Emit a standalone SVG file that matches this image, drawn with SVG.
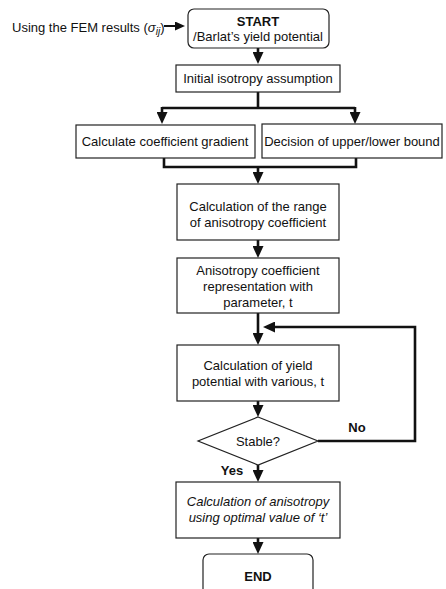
<svg xmlns="http://www.w3.org/2000/svg" width="446" height="589" viewBox="0 0 446 589">
<style>
.box{fill:#fff;stroke:#222;stroke-width:1.2}
.t{font-family:"Liberation Sans",Arial,sans-serif;font-size:13px;fill:#111;text-anchor:middle}
.b{font-weight:bold}
.i{font-style:italic}
.c{fill:none;stroke:#111;stroke-width:2.6;stroke-linejoin:miter}
</style>
<defs>
<marker id="ah" markerUnits="userSpaceOnUse" viewBox="0 0 12 11" markerWidth="12" markerHeight="11" refX="8" refY="5.5" orient="auto">
<path d="M0,0 L12,5.5 L0,11 z" fill="#111"/>
</marker>
<marker id="ahs" markerUnits="userSpaceOnUse" viewBox="0 0 10 9" markerWidth="10" markerHeight="9" refX="7" refY="4.5" orient="auto">
<path d="M0,0 L10,4.5 L0,9 z" fill="#111"/>
</marker>
</defs>
<g id="input">
<text class="t" x="12" y="32" style="text-anchor:start">Using the FEM results (<tspan class="i">σ</tspan><tspan class="i" font-size="10" dy="3">ij</tspan><tspan dy="-3">)</tspan></text>
</g>
<g id="connectors">
<path class="c" d="M164,26 L182,26" style="stroke-width:2" marker-end="url(#ahs)"/>
<path class="c" d="M258,48 L258,60" marker-end="url(#ah)"/>
<path class="c" d="M258,92 L258,108"/>
<path class="c" d="M162,108 L355,108"/>
<path class="c" d="M162,107 L162,120" marker-end="url(#ah)"/>
<path class="c" d="M355,107 L355,120" marker-end="url(#ah)"/>
<path class="c" d="M164,158 L164,167 L356,167 L356,158"/>
<path class="c" d="M258,167 L258,180" marker-end="url(#ah)"/>
<path class="c" d="M258,240 L258,254" marker-end="url(#ah)"/>
<path class="c" d="M258,313 L258,341" marker-end="url(#ah)"/>
<path class="c" d="M318,441 L415,441 L415,327 L267,327" marker-end="url(#ah)"/>
<path class="c" d="M258,401 L258,413" marker-end="url(#ah)"/>
<path class="c" d="M258,465 L258,478" marker-end="url(#ah)"/>
<path class="c" d="M258,538 L258,550" marker-end="url(#ah)"/>
</g>
<g id="start">
<rect class="box" x="188" y="9" width="141" height="39" rx="6"/>
<text class="t b" x="258" y="26">START</text>
<text class="t" x="258" y="41">/Barlat’s yield potential</text>
</g>
<g id="initial">
<rect class="box" x="176" y="65" width="164" height="27"/>
<text class="t" x="258" y="83">Initial isotropy assumption</text>
</g>
<g id="gradient">
<rect class="box" x="76" y="125" width="179" height="33"/>
<text class="t" x="165" y="146">Calculate coefficient gradient</text>
</g>
<g id="bound">
<rect class="box" x="262" y="124" width="180" height="34"/>
<text class="t" x="352" y="146">Decision of upper/lower bound</text>
</g>
<g id="range">
<rect class="box" x="177" y="184" width="162" height="56"/>
<text class="t" x="258" y="211">Calculation of the range</text>
<text class="t" x="258" y="227">of anisotropy coefficient</text>
</g>
<g id="param">
<rect class="box" x="177" y="258" width="162" height="55"/>
<text class="t" x="258" y="275">Anisotropy coefficient</text>
<text class="t" x="258" y="291">representation with</text>
<text class="t" x="258" y="307">parameter, t</text>
</g>
<g id="yield">
<rect class="box" x="177" y="345" width="162" height="56"/>
<text class="t" x="258" y="370">Calculation of yield</text>
<text class="t" x="258" y="386">potential with various, t</text>
</g>
<g id="stable">
<polygon class="box" points="258,417 318,441 258,465 198,441"/>
<text class="t" x="258" y="446">Stable?</text>
</g>
<g id="labels">
<text class="t b" x="357" y="432">No</text>
<text class="t b" x="232" y="475">Yes</text>
</g>
<g id="optimal">
<rect class="box" x="176" y="482" width="164" height="56"/>
<text class="t i" x="258" y="506">Calculation of anisotropy</text>
<text class="t i" x="258" y="522">using optimal value of ‘t’</text>
</g>
<g id="end">
<rect class="box" x="203" y="554" width="110" height="45" rx="6"/>
<text class="t b" x="258" y="581">END</text>
</g>
</svg>
